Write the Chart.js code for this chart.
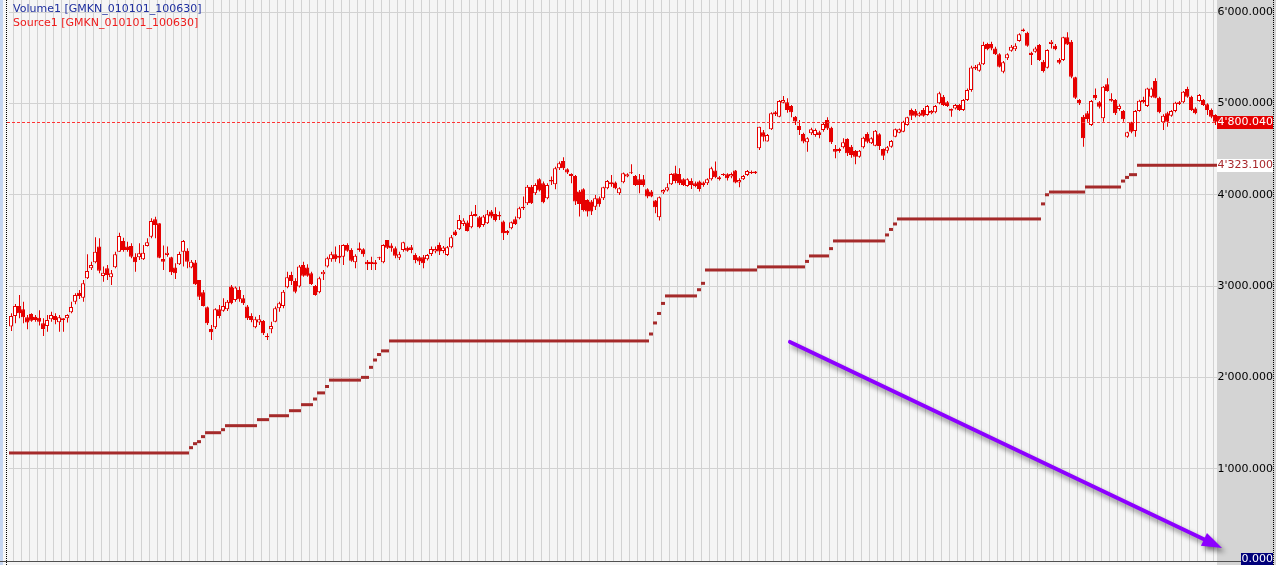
<!DOCTYPE html>
<html><head><meta charset="utf-8">
<script src="https://cdn.jsdelivr.net/npm/chart.js@4.4.1/dist/chart.umd.min.js"></script>
<style>html,body{margin:0;padding:0;background:#f5f5f5;overflow:hidden}canvas{display:block}</style>
</head><body><canvas id="c" width="1276" height="565"></canvas>
<script>
// ---- data ----
const opens = [2556,2673,2782,2746,2658,2694,2665,2654,2592,2563, 2636,2673,2603,2647,2647,2713,2829,2928,2873,3085, 3194,3260,3432,3111,3194,3096,3205,3377,3494,3432, 3439,3322,3315,3293,3439,3541,3731,3687,3297,3340, 3315,3202,3238,3377,3388,3202,3257,3067,2932,2767, 2530,2548,2746,2731,2746,2994,2848,2957,2866,2775, 2673,2548,2600,2618,2454,2527,2610,2756,2782,2986, 3121,3056,2994,3231,3202,3140,3001,2932,3129,3213, 3293,3348,3333,3322,3450,3395,3260,3395,3403,3267, 3267,3238,3315,3260,3505,3443,3413,3311,3395,3421,
3425,3341,3316,3316,3294,3352,3378,3451,3385,3341, 3425,3597,3622,3681,3695,3644,3790,3754,3670,3688, 3816,3790,3779,3706,3604,3633,3732,3743,3852,3907, 4089,4016,4170,4126,3962,4162,4115,4290,4371,4279, 4206,4206,4035,4060,3943,3925,3870,3962,3962,4071, 4137,4133,4016,4137,4199,4246,4206,4170,4170,4060, 4035,3936,3754,4024,4046,4115,4235,4228,4170,4097, 4152,4126,4144,4133,4126,4170,4265,4192,4228,4224, 4199,4265,4133,4170,4217,4250,4254,
4509,4684,4582,4717,4903,4855,5009,5012,4972,4855,4753,4666,4574,
4673,4654,4684,4709,4819,4735,4501,4501,4519,4611, 4527,4479,4417,4519,4665,4563,4538,4662,4501,4483, 4527,4636,4680,4691,4764,4928,4921,4866,4928,4873, 4892,4903,5001,5074,5012,4939,4946,4983,4928,5038, 5147,5384,5359,5428,5651,5651,5603,5538,5348,5494, 5578,5593,5684,5793,5775,5556,5567,5640,5457,5392, 5651,5633,5476,5476,5724,5676,5286,5038,4855,4892, 4764,5092,5012,4837,5209,5049,5038,4939,4917,4636, 4793,4698,4917,5038,4972,5074,5246,5063,4793,4892, 4866,4917,4994,5012,5158,5074,4946,5027,5038,4990, 4928,4873];
const closes = [2673,2782,2702,2658,2600,2621,2629,2610,2530,2629, 2683,2629,2658,2629,2683,2771,2902,2892,3030,3165, 3231,3377,3169,3147,3121,3140,3348,3549,3395,3395, 3322,3260,3359,3366,3479,3713,3669,3311,3267,3366, 3151,3140,3351,3494,3267,3267,3019,2884,2782,2592, 2494,2746,2673,2782,2829,2811,2983,2855,2811,2647, 2629,2636,2636,2483,2439,2563,2756,2811,2939,3096, 3056,2939,3213,3114,3114,3023,2902,3085,3158,3304, 3348,3293,3311,3450,3388,3278,3333,3413,3348,3238, 3242,3260,3304,3450,3421,3413,3333,3348,3479,3388,
3396,3286,3268,3250,3341,3407,3407,3378,3422,3425, 3535,3560,3724,3717,3604,3779,3768,3644,3761,3787, 3761,3724,3761,3578,3578,3699,3681,3852,3870,4089, 3907,4108,4046,3918,4108,4144,4290,4345,4290,4243, 4228,3925,3900,3834,3816,3816,3962,3896,4082,4152, 4115,4071,4071,4235,4224,4235,4108,4108,4108,3980, 3980,3863,3973,4053,4082,4228,4152,4126,4108,4170, 4108,4097,4064,4108,4170,4290,4192,4170,4217,4181, 4228,4133,4162,4206,4261,4235,4235,
4746,4636,4655,4892,4881,5027,5038,4928,4903,4801,4709,4582,4618,
4717,4709,4654,4775,4727,4574,4472,4479,4574,4454, 4435,4417,4483,4625,4581,4618,4702,4534,4428,4519, 4589,4717,4717,4800,4848,4866,4866,4892,4866,4972, 4917,4972,5111,4983,4972,4921,4983,4928,5038,5147, 5395,5403,5428,5640,5593,5603,5538,5403,5450,5538, 5622,5633,5757,5811,5633,5530,5603,5476,5355,5585, 5676,5593,5446,5724,5647,5293,5063,5001,4618,4830, 5027,5056,4965,5184,5136,5030,4892,4976,4826,4684, 4691,4917,5030,5012,5165,5165,5063,4903,4866,4800, 4917,5009,5012,5129,5074,4928,4892,5092,4983,4928, 4855,4800.04];
const highs = [2702,2804,2902,2829,2683,2702,2683,2735,2647,2683, 2720,2702,2683,2647,2691,2829,2921,2957,3067,3348, 3267,3534,3523,3213,3231,3176,3377,3585,3530,3486, 3468,3359,3468,3450,3523,3742,3760,3687,3443,3432, 3322,3249,3377,3505,3413,3286,3286,3067,2957,2775, 2574,2756,2793,2866,2848,3012,2994,2994,2902,2793, 2702,2665,2683,2629,2483,2610,2775,2829,2957,3158, 3158,3085,3231,3267,3238,3158,3012,3103,3176,3322, 3377,3432,3450,3457,3468,3413,3348,3476,3413,3286, 3322,3286,3322,3457,3505,3468,3432,3377,3486,3432,
3451,3359,3330,3341,3352,3432,3432,3476,3440,3440, 3560,3615,3779,3743,3717,3816,3889,3768,3779,3834, 3834,3863,3816,3717,3615,3706,3761,3870,3980,4108, 4108,4126,4181,4144,4126,4199,4308,4363,4411,4290, 4235,4217,4053,4071,3951,3943,3998,3980,4089,4162, 4217,4144,4082,4243,4235,4334,4217,4228,4217,4071, 4053,3943,3980,4060,4126,4235,4319,4290,4181,4181, 4181,4144,4155,4144,4181,4308,4363,4206,4235,4235, 4243,4272,4181,4217,4272,4265,4261,
4746,4709,4665,4903,4918,5038,5082,5056,4983,4863,4819,4680,4629,
4735,4727,4700,4790,4848,4745,4545,4516,4618,4618, 4545,4490,4490,4636,4684,4629,4709,4673,4508,4534, 4600,4727,4727,4811,4855,4946,4939,4910,4950,4983, 4928,4983,5129,5092,5027,4946,4994,4994,5049,5165, 5413,5421,5450,5676,5665,5676,5622,5549,5465,5549, 5640,5658,5768,5822,5786,5567,5622,5651,5476,5593, 5695,5651,5494,5731,5779,5695,5293,5049,4873,4917, 5038,5165,5027,5191,5275,5111,5049,4990,4928,4691, 4800,4928,5041,5074,5173,5176,5275,5074,4881,4910, 4928,5019,5027,5136,5184,5085,4958,5103,5049,5001, 4946,4881];
const lows = [2508,2592,2647,2592,2527,2610,2610,2567,2454,2501, 2610,2581,2501,2501,2600,2702,2800,2859,2829,3078, 3176,3249,3140,3048,3067,3012,3194,3377,3377,3377, 3304,3158,3286,3286,3432,3523,3523,3304,3176,3322, 3121,3078,3231,3213,3194,3194,3012,2848,2775,2574, 2410,2530,2647,2720,2727,2800,2829,2829,2793,2629, 2603,2537,2574,2464,2410,2483,2603,2720,2756,2975, 3012,2921,2983,3103,3103,3012,2895,2921,3067,3202, 3267,3267,3249,3231,3377,3267,3194,3377,3322,3176, 3176,3176,3286,3249,3406,3377,3304,3286,3377,3377,
3359,3250,3232,3195,3279,3330,3359,3341,3359,3330, 3414,3549,3615,3659,3597,3633,3761,3633,3651,3681, 3743,3706,3724,3505,3560,3622,3670,3732,3834,3889, 3900,3998,4035,3907,3951,4108,4060,4272,4272,4228, 4126,3889,3761,3816,3761,3779,3834,3870,3943,4060, 4089,4060,3998,4126,4192,4228,4097,4016,4089,3962, 3973,3797,3717,4009,4035,4108,4126,4108,4097,4089, 4064,4082,4035,4089,4108,4155,4181,4155,4206,4155, 4181,4126,4082,4162,4206,4228,4228,
4490,4582,4582,4709,4863,4848,5001,4899,4848,4764,4655,4563,4472,
4654,4636,4618,4691,4709,4556,4399,4461,4508,4424, 4406,4333,4406,4508,4563,4556,4530,4490,4381,4454, 4516,4629,4673,4684,4757,4819,4848,4855,4855,4866, 4881,4892,4990,4972,4961,4855,4935,4917,4917,5027, 5129,5366,5348,5421,5582,5582,5530,5395,5330,5475, 5567,5574,5676,5786,5622,5421,5556,5465,5340,5384, 5603,5582,5428,5465,5640,5275,5049,4983,4527,4800, 4753,5038,4946,4800,5129,5019,4873,4921,4800,4625, 4673,4636,4910,5001,4961,5063,5056,4892,4709,4746, 4855,4903,4983,5001,5063,4917,4881,5019,4972,4873, 4837,4764];
// second series (step line): bar index where each level starts, and the level
const stepStarts = [0,45,46,47,48,49,53,54,62,65,70,73,76,77,79,80,88,90,91,92,93,95,160,161,162,163,164,172,173,174,187,199,200,205,206,219,220,221,222,258,259,260,269,278,279,280,282];
const stepLevels = [1172,1230,1274,1296,1351,1394,1427,1471,1537,1580,1635,1701,1763,1830,1900,1970,2000,2110,2190,2250,2290,2399,2475,2596,2700,2810,2892,2960,3030,3176,3210,3270,3330,3410,3494,3560,3620,3680,3735,3900,4000,4030,4085,4150,4190,4220,4323.1];
const volumeLast = 0;
const yTicks = [1000, 2000, 3000, 4000, 5000, 6000];
const seriesNames = ['Volume1 [GMKN_010101_100630]', 'Source1 [GMKN_010101_100630]'];
const arrowFrom = { bar: 194.75, value: 2388 };
const arrowTo = { bar: 302.75, value: 132 };

// ---- derived ----
const bars = closes.map((_, i) => String(i + 1));
const stepLine = bars.map((_, i) => {
  let lv = stepLevels[0];
  for (let k = 0; k < stepStarts.length; k++) if (i >= stepStarts[k]) lv = stepLevels[k];
  return lv;
});
const lastClose = closes[closes.length - 1];
const lastStep = stepLine[stepLine.length - 1];

const RED = '#e60000', STEP = '#a52a2a', GRID = '#d2d2d2', BG = '#f5f5f5', AXISBG = '#d4d4d4';
const FONT = '11px "DejaVu Sans"';

function fmt(v) {
  const s = Number(v).toFixed(3);
  const parts = s.split('.');
  return parts[0].replace(/\B(?=(\d{3})+(?!\d))/g, "'") + '.' + parts[1];
}

const decor = {
  id: 'decor',
  beforeDraw(chart) {
    const { ctx, chartArea: a, width, height } = chart;
    ctx.save();
    ctx.fillStyle = BG; ctx.fillRect(0, 0, width, height);
    ctx.fillStyle = AXISBG; ctx.fillRect(a.right, 0, width - a.right, height);
    ctx.fillStyle = '#c6d6f2'; ctx.fillRect(0, 0, 3, height);
    ctx.restore();
  },
  beforeDatasetDraw(chart, args) {
    if (args.index === 1) { chart.ctx.save(); chart.ctx.translate(0.5, 0); }
  },
  afterDatasetDraw(chart, args) {
    if (args.index === 1) chart.ctx.restore();
  },
  afterDatasetsDraw(chart) {
    const { ctx, chartArea: a, width, height, scales } = chart;
    const y = scales.y, x = scales.x;
    ctx.save();
    // last price dashed line
    const yl = Math.round(y.getPixelForValue(lastClose)) + 0.5;
    ctx.strokeStyle = '#ff3434'; ctx.lineWidth = 1; ctx.setLineDash([3, 2]);
    ctx.beginPath(); ctx.moveTo(a.left - 2, yl); ctx.lineTo(a.right, yl); ctx.stroke();
    ctx.setLineDash([]);
    // dotted borders
    ctx.fillStyle = '#000';
    for (let yy = 0; yy < height; yy += 2) { ctx.fillRect(6, yy, 1, 1); ctx.fillRect(1273, yy, 1, 1); }
    // bottom line
    ctx.fillStyle = '#505050'; ctx.fillRect(0, 561, 1241, 1);
    // value labels on axis
    ctx.font = FONT; ctx.textAlign = 'right'; ctx.textBaseline = 'middle';
    const yc = y.getPixelForValue(lastClose);
    ctx.fillStyle = RED; ctx.fillRect(a.right, Math.round(yc) - 6, 1273 - a.right, 13);
    ctx.fillStyle = '#fff'; ctx.fillText(fmt(lastClose), 1273, Math.round(yc) + 0.5);
    const ys = y.getPixelForValue(lastStep);
    ctx.fillStyle = '#fff'; ctx.fillRect(a.right, Math.round(ys) - 6, 1273 - a.right, 13);
    ctx.fillStyle = '#a8282c'; ctx.fillText(fmt(lastStep), 1273, Math.round(ys) + 0.5);
    ctx.fillStyle = '#00007a'; ctx.fillRect(1241, 553, 32, 12);
    ctx.fillStyle = '#fff'; ctx.fillText(fmt(volumeLast), 1273, 559.5);
    // legend texts
    ctx.textAlign = 'left'; ctx.textBaseline = 'alphabetic';
    ctx.fillStyle = '#1f2f9f'; ctx.fillText(seriesNames[0], 13, 12);
    ctx.fillStyle = '#ee1c1c'; ctx.fillText(seriesNames[1], 13, 26);
    // arrow annotation
    const x0 = x.getPixelForValue(arrowFrom.bar), y0 = y.getPixelForValue(arrowFrom.value);
    const x1 = x.getPixelForValue(arrowTo.bar), y1 = y.getPixelForValue(arrowTo.value);
    const ang = Math.atan2(y1 - y0, x1 - x0), hl = 20, hw = 7;
    const bx = x1 - hl * Math.cos(ang), by = y1 - hl * Math.sin(ang);
    ctx.shadowColor = 'rgba(0,0,0,0.45)'; ctx.shadowBlur = 5; ctx.shadowOffsetX = 3; ctx.shadowOffsetY = 4;
    ctx.strokeStyle = '#8c00ff'; ctx.fillStyle = '#8c00ff'; ctx.lineWidth = 4; ctx.lineCap = 'round';
    ctx.beginPath(); ctx.moveTo(x0, y0); ctx.lineTo(bx + 4 * Math.cos(ang), by + 4 * Math.sin(ang)); ctx.stroke();
    ctx.beginPath(); ctx.moveTo(x1, y1);
    ctx.lineTo(bx + hw * Math.sin(ang), by - hw * Math.cos(ang));
    ctx.lineTo(bx - hw * Math.sin(ang), by + hw * Math.cos(ang));
    ctx.closePath(); ctx.fill();
    ctx.restore();
  }
};

new Chart(document.getElementById('c'), {
  type: 'bar',
  data: {
    labels: bars,
    datasets: [
      { label: 'body', data: opens.map((o, i) => [o, closes[i]]),
        backgroundColor: opens.map((o, i) => closes[i] >= o ? '#ffffff' : RED),
        borderColor: RED, borderWidth: 1, borderSkipped: false, inflateAmount: 0,
        barThickness: 4, grouped: false, order: 0 },
      { label: 'wick', data: lows.map((l, i) => [l, highs[i]]),
        backgroundColor: RED, borderWidth: 0, inflateAmount: 0, barThickness: 1, grouped: false, order: 1 },
      { type: 'line', label: 'step', data: stepLine, showLine: false,
        pointStyle: 'line', pointRadius: 2, pointHoverRadius: 2, pointBorderWidth: 3, pointHoverBorderWidth: 3,
        borderColor: STEP, pointBorderColor: STEP, backgroundColor: STEP, order: 2 }
    ]
  },
  options: {
    responsive: false, animation: false, devicePixelRatio: 1,
    layout: { autoPadding: false, padding: { left: 9, right: 3, top: 0, bottom: 3 } },
    plugins: { legend: { display: false }, tooltip: { enabled: false } },
    events: [],
    scales: {
      x: { offset: true,
        grid: { offset: true, drawTicks: false, lineWidth: 1,
          color: c => (c.index % 2 === 1 ? GRID : 'rgba(0,0,0,0)') },
        ticks: { display: false }, border: { display: false } },
      y: { position: 'right', min: -22, max: 6133,
        afterBuildTicks: s => { s.ticks = yTicks.map(v => ({ value: v })); },
        afterFit: s => { s.width = 56; s.paddingTop = 0; s.paddingBottom = 0; },
        grid: { color: GRID, lineWidth: 1, drawTicks: false }, border: { display: false },
        ticks: { crossAlign: 'far', padding: 0, color: '#000', font: { family: 'DejaVu Sans', size: 11 },
          callback: v => fmt(v) } }
    }
  },
  plugins: [decor]
});
</script>
</body></html>
